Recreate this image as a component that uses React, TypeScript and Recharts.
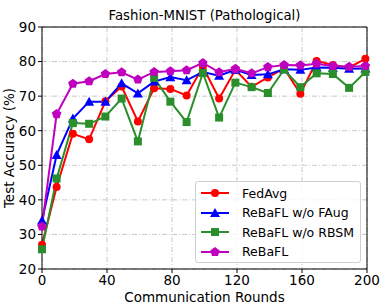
import { CartesianGrid, Line, LineChart, ReferenceLine, XAxis, YAxis } from "recharts";

const rounds = [0, 9, 19, 29, 39, 49, 59, 69, 79, 89, 99, 109, 119, 129, 139, 149, 159, 169, 179, 189, 199];

const fedAvg = [27.0, 43.7, 59.1, 57.5, 68.5, 72.8, 62.7, 72.3, 72.1, 70.2, 78.5, 69.3, 77.6, 72.7, 75.4, 78.0, 70.7, 80.2, 79.0, 78.3, 80.8];
const woFAug = [34.0, 53.0, 63.5, 68.4, 68.4, 73.7, 70.8, 74.2, 75.5, 74.6, 77.0, 75.9, 77.6, 76.1, 76.3, 77.8, 77.6, 78.3, 78.2, 77.9, 78.0];
const woRBSM = [25.7, 46.2, 62.2, 62.0, 64.1, 69.3, 56.9, 75.3, 68.4, 62.5, 76.7, 63.8, 73.9, 72.6, 70.9, 77.7, 72.6, 76.6, 76.4, 72.4, 77.0];
const rebafl = [32.3, 64.8, 73.6, 74.3, 76.4, 76.9, 74.8, 77.0, 77.2, 77.5, 79.6, 76.9, 77.9, 76.6, 78.4, 79.0, 78.9, 79.4, 78.7, 78.5, 78.7];

const xTicks = [0, 40, 80, 120, 160, 200];
const yTicks = [20, 30, 40, 50, 60, 70, 80, 90];

const data = rounds.map((r, i) => ({
  round: r,
  fedAvg: fedAvg[i],
  woFAug: woFAug[i],
  woRBSM: woRBSM[i],
  rebafl: rebafl[i],
}));

const FONT = "'DejaVu Sans', sans-serif";

type Shape = "circle" | "triangle" | "square" | "pentagon";

const series: { key: string; name: string; color: string; shape: Shape }[] = [
  { key: "fedAvg", name: "FedAvg", color: "#ff0000", shape: "circle" },
  { key: "woFAug", name: "ReBaFL w/o FAug", color: "#0000ff", shape: "triangle" },
  { key: "woRBSM", name: "ReBaFL w/o RBSM", color: "#2a8f2a", shape: "square" },
  { key: "rebafl", name: "ReBaFL", color: "#bf00bf", shape: "pentagon" },
];

function marker(shape: Shape, cx: number, cy: number, color: string, key?: string | number) {
  if (shape === "circle") return <circle key={key} cx={cx} cy={cy} r={4} fill={color} />;
  if (shape === "square") return <rect key={key} x={cx - 4} y={cy - 4} width={8} height={8} fill={color} />;
  if (shape === "triangle") {
    const r = 5;
    return <polygon key={key} points={`${cx},${cy - r} ${cx - r},${cy + r * 0.8} ${cx + r},${cy + r * 0.8}`} fill={color} />;
  }
  const pts = [];
  for (let k = 0; k < 5; k++) {
    const a = -Math.PI / 2 + (k * 2 * Math.PI) / 5;
    pts.push(`${cx + 5 * Math.cos(a)},${cy + 5 * Math.sin(a)}`);
  }
  return <polygon key={key} points={pts.join(" ")} fill={color} />;
}

const makeDot = (shape: Shape, color: string) => (props: any) => {
  const { cx, cy, index } = props;
  if (cx == null || cy == null) return <g key={index} />;
  return marker(shape, cx, cy, color, index);
};

// legend drawn as an overlay so it doesn't eat plot space
function LegendBox() {
  return (
    <div
      style={{
        position: "absolute",
        left: 195,
        top: 181,
        width: 164,
        height: 80,
        border: "1px solid #d0d0d0",
        borderRadius: 3,
        background: "rgba(255,255,255,0.8)",
        fontFamily: FONT,
        fontSize: 12.5,
        color: "#000",
      }}
    >
      {series.map((s, i) => (
        <div key={s.key} style={{ position: "absolute", left: 0, top: 4 + i * 19.5, height: 14, display: "flex", alignItems: "center" }}>
          <svg width={42} height={14} style={{ marginLeft: 4 }}>
            <line x1={1} y1={7} x2={29} y2={7} stroke={s.color} strokeWidth={2} />
            {marker(s.shape, 15, 7, s.color)}
          </svg>
          <span style={{ whiteSpace: "nowrap" }}>{s.name}</span>
        </div>
      ))}
    </div>
  );
}

export default function App() {
  return (
    <div style={{ position: "absolute", left: 0, top: 0, width: 382, height: 304, background: "#fff" }}>
      <div
        style={{
          position: "absolute",
          left: 42,
          width: 325,
          top: 8,
          textAlign: "center",
          fontFamily: FONT,
          fontSize: 13.3,
          lineHeight: "15px",
        }}
      >
        Fashion-MNIST (Pathological)
      </div>
      <LineChart width={382} height={304} data={data} margin={{ top: 27, right: 15, bottom: 0, left: 0 }}>
        <CartesianGrid stroke="#c8c8c8" strokeDasharray="5 2 1 2" strokeWidth={1} />
        <XAxis
          dataKey="round"
          type="number"
          domain={[0, 200]}
          ticks={xTicks}
          height={35}
          stroke="#000"
          tickSize={4}
          tick={{ fill: "#000", fontFamily: FONT, fontSize: 13.5 }}
          tickLine={{ stroke: "#000" }}
          label={{ value: "Communication Rounds", position: "insideBottom", offset: 2, fill: "#000", fontFamily: FONT, fontSize: 13.5 }}
        />
        <YAxis
          type="number"
          domain={[20, 90]}
          ticks={yTicks}
          width={42}
          stroke="#000"
          tickSize={4}
          tick={{ fill: "#000", fontFamily: FONT, fontSize: 13.5 }}
          tickLine={{ stroke: "#000" }}
          label={{ value: "Test Accuracy (%)", angle: -90, position: "insideLeft", offset: 0, dx: 9, fill: "#000", fontFamily: FONT, fontSize: 13.5, style: { textAnchor: "middle" } }}
        />
        <ReferenceLine y={90} stroke="#000" strokeWidth={1} />
        <ReferenceLine x={200} stroke="#000" strokeWidth={1} />
        {series.map((s) => (
          <Line
            key={s.key}
            dataKey={s.key}
            name={s.name}
            stroke={s.color}
            strokeWidth={2}
            dot={makeDot(s.shape, s.color)}
            activeDot={false}
            isAnimationActive={false}
          />
        ))}
      </LineChart>
      <LegendBox />
    </div>
  );
}
